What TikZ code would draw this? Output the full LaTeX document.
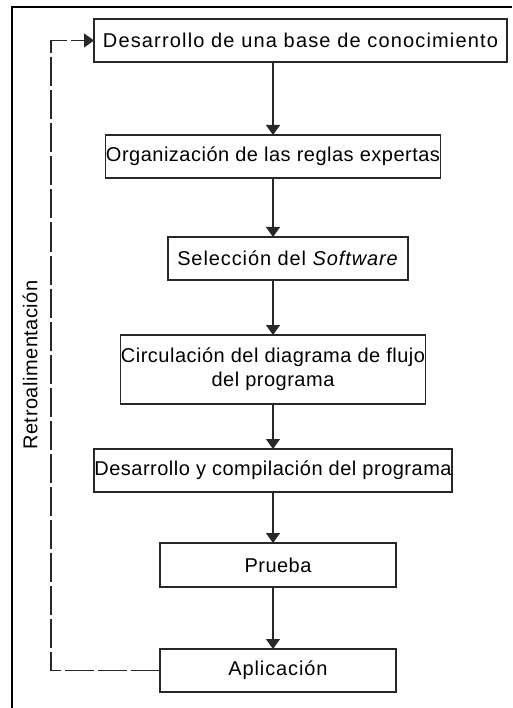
\documentclass[tikz,border=0pt]{standalone}
\usepackage{fontspec}
\setmainfont{Liberation Sans}[LetterSpace=2.5]
\usepackage{tikz}
\usetikzlibrary{arrows.meta, positioning, calc}
\definecolor{borde}{RGB}{40,40,40}
\tikzset{
  >=latex,  % Flechas rellenas por defecto
  % Cajas del diagrama
  caja/.style={draw=borde,line width=1.6pt,rectangle,minimum height=43,inner xsep=0.5,inner ysep=2,outer sep=0,
    font=\fontsize{20}{24}\selectfont},
  caja ancha/.style={caja,font=\fontsize{20}{24}\selectfont\addfontfeature{LetterSpace=#1}},
  % Conexiones
  flecha/.style={-{Triangle[length=10pt,width=14pt]},line width=1.4pt,borde},
  retro/.style={flecha,dash pattern=on 29pt off 4pt}
}
\begin{document}
\begin{tikzpicture}[x=1pt,y=-1pt]
        \useasboundingbox (0,0) rectangle (512,708);
        \draw[line width=2pt,black](12,708)--(12,7)--(512,7);
        \coordinate (eje) at (273,0);
        \coordinate (esq) at (51,0);
        \node[caja ancha=5.8,minimum width=413] (base) at (300.5,40.5){Desarrollo de una base de conocimiento};
        \node[caja,minimum width=316] (reglas) at (273,156.5){Organización de las reglas expertas};
        \node[caja ancha=4.5,minimum width=240] (soft) at (288,258.5){Selección del \textit{Software}};
        \node[caja,minimum width=304,minimum height=69,align=center] (flujo) at (273,369.5){Circulación del diagrama de flujo\\del programa};
        \node[caja,minimum width=358] (compila) at (273,470.5){Desarrollo y compilación del programa};
        \node[caja,minimum width=236,minimum height=44] (prueba) at (278,565){Prueba};
        \node[caja ancha=4.5,minimum width=236] (aplica) at (278,670.5){Aplicación};
        \node[rotate=90,font=\fontsize{20}{24}\selectfont] (etiq) at (30,365){Retroalimentación};
        \draw[flecha](base.south -| eje)--(reglas.north -| eje);
        \draw[flecha](reglas.south -| eje)--(soft.north -| eje);
        \draw[flecha](soft.south -| eje)--(flujo.north -| eje);
        \draw[flecha](flujo.south -| eje)--(compila.north -| eje);
        \draw[flecha](compila.south -| eje)--(prueba.north -| eje);
        \draw[flecha](prueba.south -| eje)--(aplica.north -| eje);
        \draw[retro](aplica.west)-|(esq |- base.west)--(base.west);
      \end{tikzpicture}
\end{document}
